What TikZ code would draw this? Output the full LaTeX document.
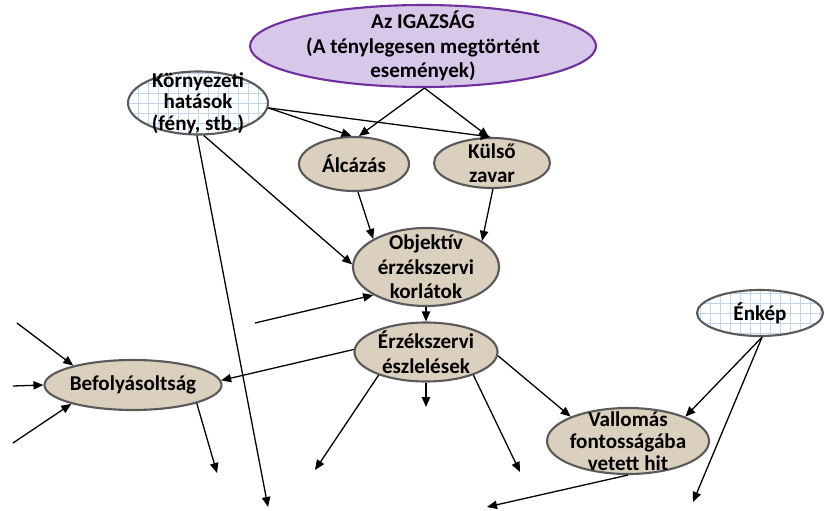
\documentclass[tikz,border=0pt]{standalone}
\usepackage{fontspec}
\setmainfont{Carlito}
\usetikzlibrary{shapes.geometric,arrows.meta}

\definecolor{truthfill}{HTML}{D7C8EA}
\definecolor{truthline}{HTML}{7030A0}
\definecolor{parch}{HTML}{DBCFBD}
\definecolor{rim}{HTML}{5A5A5A}
\definecolor{gridblue}{HTML}{C3D5E8}

\tikzset{
  blob/.style={ellipse, draw=rim, line width=1.8pt, fill=parch, inner sep=0pt},
  gridblob/.style={blob, fill=white,
    path picture={\draw[gridblue, line width=0.4pt, step=0.3cm]
      (path picture bounding box.south west) grid (path picture bounding box.north east);}},
  truthblob/.style={blob, draw=truthline, fill=truthfill, line width=1.8pt},
  txt/.style={font=\fontsize{18}{21}\selectfont\bfseries, align=center, inner sep=0pt},
  tighttxt/.style={txt, font=\fontsize{18}{18.5}\selectfont\bfseries},
  arr/.style={-{Triangle[length=0.3cm,width=0.25cm]}, line width=1.1pt},
}

\begin{document}
\begin{tikzpicture}[x=0.03cm, y=-0.03cm]

    \useasboundingbox (0,0) rectangle (825,510);

% Csomopontok
	\node[truthblob, minimum width=10.38cm, minimum height=2.46cm,
		label={[txt]center:{Az IGAZSÁG\\(A ténylegesen megtörtént\\események)}}] (truth) at (423,46) {};
	\node[gridblob, minimum width=4.2cm, minimum height=1.89cm,
		label={[tighttxt]center:{Környezeti\\hatások\\(fény, stb.)}}] (env) at (198,103) {};
	\node[blob, minimum width=3.3cm, minimum height=1.62cm,
		label={[txt]center:{Álcázás}}] (alc) at (354,164) {};
	\node[blob, minimum width=3.48cm, minimum height=1.5cm,
		label={[txt]center:{Külső\\zavar}}] (kulso) at (492,163) {};
	\node[blob, minimum width=4.38cm, minimum height=2.34cm,
		label={[txt]center:{Objektív\\érzékszervi\\korlátok}}] (obj) at (426,267) {};
	\node[blob, minimum width=4.29cm, minimum height=1.77cm,
		label={[txt]center:{Érzékszervi\\észlelések}}] (erz) at (426,352) {};
	\node[blob, minimum width=5.31cm, minimum height=1.5cm,
		label={[txt]center:{Befolyásoltság}}] (bef) at (133,385) {};
	\node[gridblob, minimum width=3.78cm, minimum height=1.38cm,
		label={[txt]center:{Énkép}}] (enkep) at (760,313) {};
	\node[blob, minimum width=4.86cm, minimum height=1.98cm,
		label={[tighttxt]center:{Vallomás\\fontosságába\\vetett hit}}] (vall) at (628,441) {};

% Szabad vegek
	\coordinate (envend) at (268,507);
	\coordinate (objin) at (255,323);
	\coordinate (befin1) at (17,323);
	\coordinate (befin2) at (13,386);
	\coordinate (befin3) at (13,443);
	\coordinate (befout) at (217,473);
	\coordinate (erzout1) at (315,470);
	\coordinate (erzout2) at (426,407);
	\coordinate (erzout3) at (520,472);
	\coordinate (enkepout) at (693,502);
	\coordinate (vallout) at (487,507);

% Nyilak
	\draw[arr] (truth.-88) -- (alc.80);
	\draw[arr] (truth.-88) -- (kulso.97);
	\draw[arr] (env.-4) -- (alc.95);
	\draw[arr] (env.-4) -- (kulso.93);
	\draw[arr] (env.-80) -- (obj.178);
	\draw[arr] (env.-92) -- (envend);
	\draw[arr] (alc.-82) -- (obj.152);
	\draw[arr] (kulso.-88) -- (obj.25);
	\draw[arr] (objin) -- (obj.-152);
	\draw[arr] (obj.south) -- (erz.north);
	\draw[arr] (erz.178) -- (bef.3);

	\foreach \c/\a in {befin1/162, befin2/180, befin3/-163}
		\draw[arr] (\c) -- (bef.\a);
	\draw[arr] (bef.-16) -- (befout);

	\draw[arr] (erz.-154) -- (erzout1);
	\draw[arr] (erz.south) -- (erzout2);
	\draw[arr] (erz.-26) -- (erzout3);
	\draw[arr] (erz.-3) -- (vall.157);

	\draw[arr] (enkep.-85) -- (vall.23);
	\draw[arr] (enkep.-85) -- (enkepout);
	\draw[arr] (vall.south) -- (vallout);

\end{tikzpicture}
\end{document}
